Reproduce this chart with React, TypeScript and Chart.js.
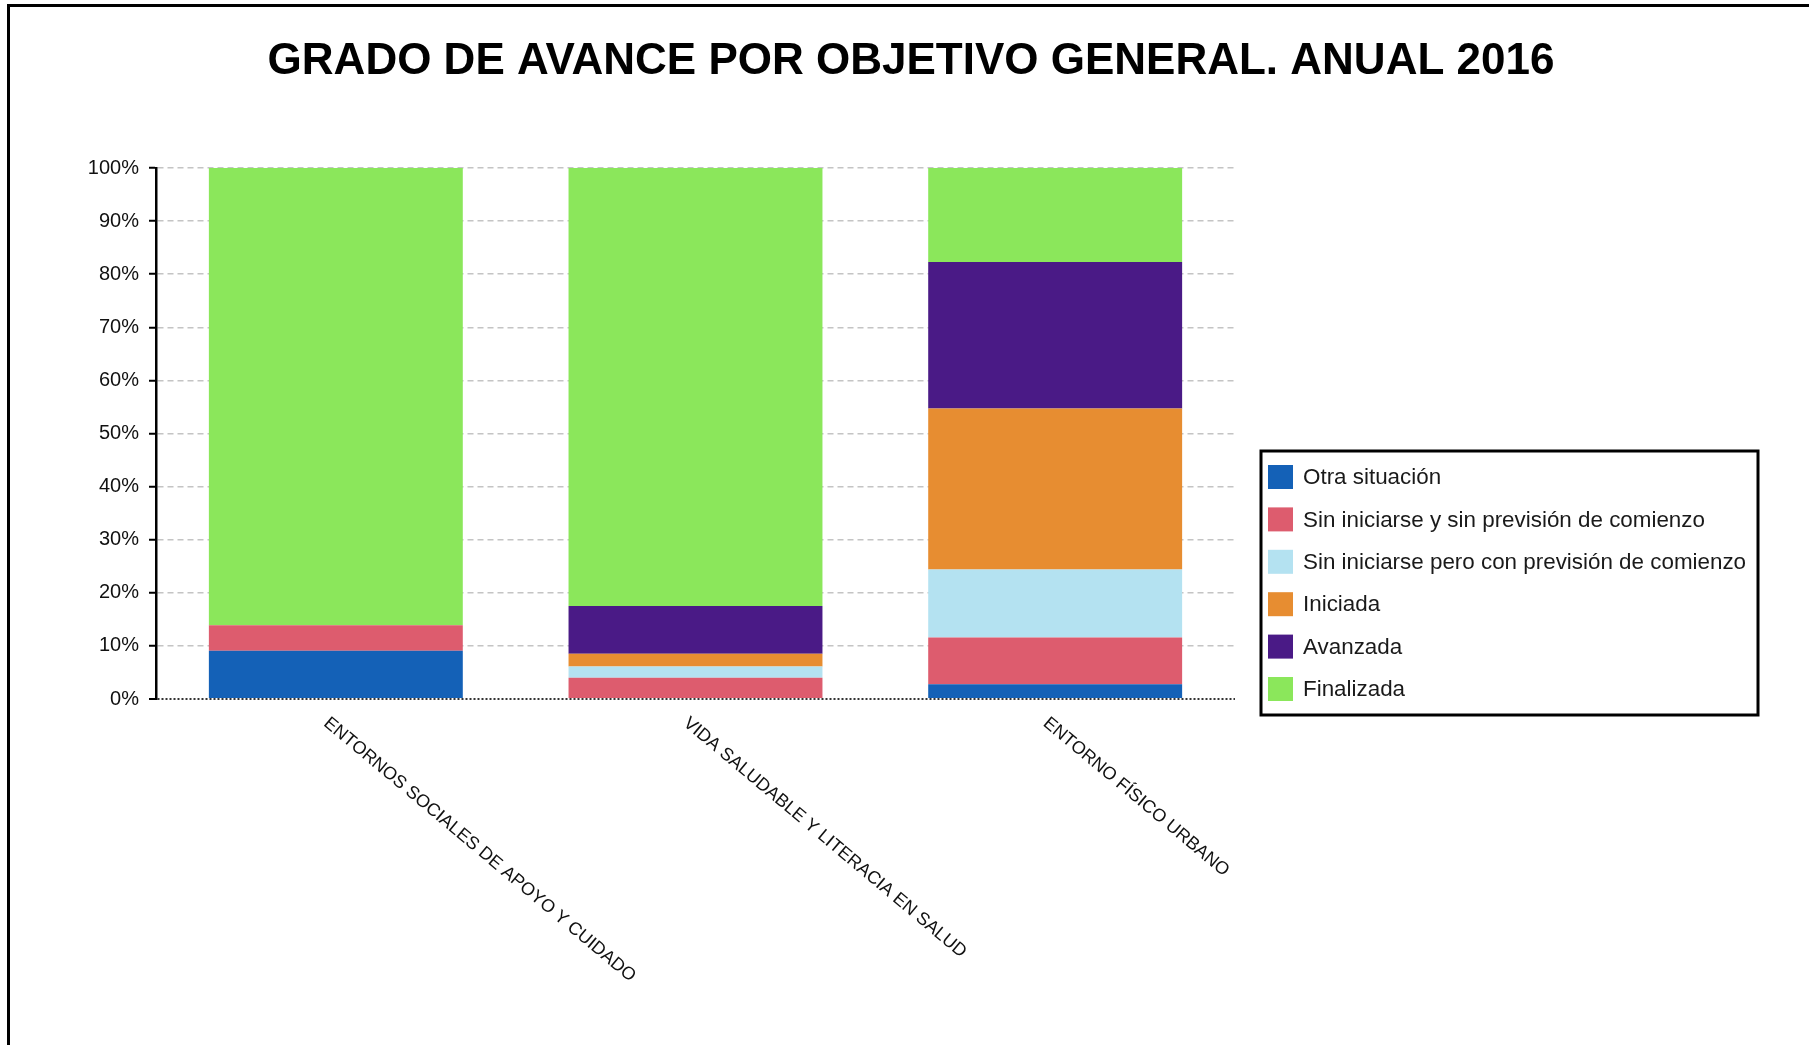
import React, { useEffect, useRef } from "react";
import { Chart, registerables } from "chart.js";

Chart.register(...registerables);

const title = "GRADO DE AVANCE POR OBJETIVO GENERAL. ANUAL 2016";
const categories = [
  "ENTORNOS SOCIALES DE APOYO Y CUIDADO",
  "VIDA SALUDABLE Y LITERACIA EN SALUD",
  "ENTORNO FÍSICO URBANO",
];
const seriesNames = [
  "Otra situación",
  "Sin iniciarse y sin previsión de comienzo",
  "Sin iniciarse pero con previsión de comienzo",
  "Iniciada",
  "Avanzada",
  "Finalizada",
];
const otraSituacion = [9.1, 0, 2.8];
const sinSinPrevision = [4.8, 4.0, 8.8];
const sinConPrevision = [0, 2.1, 12.8];
const iniciada = [0, 2.4, 30.3];
const avanzada = [0, 9.0, 27.6];
const finalizada = [86.1, 82.5, 17.7];
const yTicks = [0, 10, 20, 30, 40, 50, 60, 70, 80, 90, 100];

const colors = ["#1461B7", "#DD5C6E", "#B4E2F1", "#E78D31", "#4A1A86", "#8BE75B"];
const FONT = "'Liberation Sans', Arial, sans-serif";

const textPlugin = {
  id: "customText",
  afterDraw(chart: any) {
    const ctx = chart.ctx as CanvasRenderingContext2D;
    // Title
    ctx.save();
    ctx.fillStyle = "#000";
    ctx.font = `bold 44px ${FONT}`;
    ctx.textAlign = "center";
    ctx.textBaseline = "middle";
    ctx.fillText(title, 911, 62);
    ctx.restore();

    // Rotated x labels
    const xs = chart.scales.x;
    ctx.save();
    ctx.fillStyle = "#111";
    ctx.font = `18px ${FONT}`;
    ctx.textAlign = "left";
    ctx.textBaseline = "top";
    categories.forEach((c, i) => {
      const cx = xs.getPixelForValue(i);
      ctx.save();
      ctx.translate(cx - 4, 714);
      ctx.rotate((40 * Math.PI) / 180);
      ctx.fillText(c, 0, 0);
      ctx.restore();
    });
    ctx.restore();

    // Legend
    ctx.save();
    ctx.strokeStyle = "#000";
    ctx.lineWidth = 3;
    ctx.strokeRect(1261, 451, 497, 264);
    ctx.font = `22.4px ${FONT}`;
    ctx.textAlign = "left";
    ctx.textBaseline = "middle";
    chart.data.datasets.forEach((ds: any, i: number) => {
      const cy = 477 + i * 42.4;
      ctx.fillStyle = ds.backgroundColor;
      ctx.fillRect(1268, cy - 12, 25, 24);
      ctx.fillStyle = "#1a1a1a";
      ctx.fillText(ds.label, 1303, cy + 1);
    });
    ctx.restore();
  },
};

export default function App() {
  const ref = useRef<HTMLCanvasElement | null>(null);

  useEffect(() => {
    document.body.style.overflow = "hidden";
    const values = [otraSituacion, sinSinPrevision, sinConPrevision, iniciada, avanzada, finalizada];
    const chart = new Chart(ref.current!, {
      type: "bar",
      data: {
        labels: categories,
        datasets: seriesNames.map((name, i) => ({
          label: name,
          data: values[i],
          backgroundColor: colors[i],
          borderWidth: 0,
          barPercentage: 0.706,
          categoryPercentage: 1,
        })),
      },
      options: {
        responsive: false,
        animation: false,
        layout: { padding: { top: 168, right: 574, bottom: 0, left: 0 } },
        plugins: {
          legend: { display: false },
          title: { display: false },
          tooltip: { enabled: false },
        },
        scales: {
          x: {
            stacked: true,
            grid: { display: false },
            border: { display: false },
            ticks: { display: false },
            afterFit: (s: any) => {
              s.height = 346;
            },
          },
          y: {
            stacked: true,
            min: 0,
            max: 100,
            afterBuildTicks: (s: any) => {
              s.ticks = yTicks.map((v) => ({ value: v }));
            },
            afterFit: (s: any) => {
              s.width = 156;
            },
            ticks: {
              stepSize: 10,
              padding: 10,
              color: "#111",
              font: { family: FONT, size: 20 },
              callback: (v: any) => `${v}%`,
            },
            grid: {
              color: (c: any) => (c.tick && c.tick.value === 0 ? "#333" : "#c4c4c4"),
              lineWidth: (c: any) => (c.tick && c.tick.value === 0 ? 2 : 1.5),
              tickLength: 7,
              tickColor: "#000",
              tickWidth: 2,
              tickBorderDash: [],
            },
            border: {
              display: true,
              color: "#000",
              width: 2.5,
              dash: (c: any) => (c.tick && c.tick.value === 0 ? [2, 2] : [6, 4]),
            },
          },
        },
      },
      plugins: [textPlugin],
    });
    return () => chart.destroy();
  }, []);

  return (
    <div style={{ position: "absolute", left: 0, top: 0, width: 1809, height: 1045, background: "#fff" }}>
      <canvas ref={ref} width={1809} height={1045} style={{ display: "block" }} />
      <div
        style={{
          position: "absolute",
          left: 7,
          top: 4,
          width: 1802,
          height: 1041,
          boxSizing: "border-box",
          borderLeft: "3px solid #000",
          borderTop: "3px solid #000",
          pointerEvents: "none",
        }}
      />
    </div>
  );
}
